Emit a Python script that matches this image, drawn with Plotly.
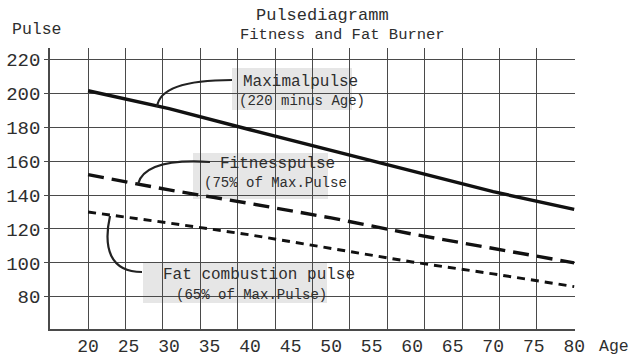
import plotly.graph_objects as go

# ---- data ----
ages = [20, 30, 40, 50, 60, 70, 80]
max_pulse = [201.5, 191, 178.5, 166.5, 154, 142, 131.5]
fitness_pulse = [152, 143, 135, 126.5, 117, 108.5, 100]
fat_pulse = [130, 123.5, 116.5, 108.5, 100.5, 93.5, 86]
x_ticks = [20, 25, 30, 35, 40, 45, 50, 55, 60, 65, 70, 75, 80]
y_ticks = [80, 100, 120, 140, 160, 180, 200, 220]
n_grid_cols = 13  # the drawn grid has 13 equal columns between age 20 and 80

FONT = "Liberation Mono, Courier New, monospace"
INK = "#2e2e2e"
GRID = "#4a4a4a"

# layout geometry (pixels)
L, R, T, B = 50, 575, 48, 329
W, H = 631, 359
XR = [15.3, 80.1]
YR = [61.0, 226.7]


def dx(px):
    return XR[0] + (px - L) / (R - L) * (XR[1] - XR[0])


def dy(py):
    return YR[0] + (B - py) / (B - T) * (YR[1] - YR[0])


fig = go.Figure()
fig.add_trace(go.Scatter(x=ages, y=max_pulse, mode="lines",
                         line=dict(color="#111", width=3.4), showlegend=False))
fig.add_trace(go.Scatter(x=ages, y=fitness_pulse, mode="lines",
                         line=dict(color="#111", width=3.4, dash="16px,8px"), showlegend=False))
fig.add_trace(go.Scatter(x=ages, y=fat_pulse, mode="lines",
                         line=dict(color="#111", width=2.9, dash="8px,6px"), showlegend=False))
# carrier for the grid axis (no visible marks)
fig.add_trace(go.Scatter(x=[0], y=[None], xaxis="x2", mode="lines",
                         showlegend=False, hoverinfo="skip"))

shapes = []
# label boxes
for (x0, y0, x1, y1) in [(232, 68, 352, 110), (193, 153, 328, 199), (143, 263, 327, 303)]:
    shapes.append(dict(type="rect", xref="x", yref="y", x0=dx(x0), x1=dx(x1),
                       y0=dy(y1), y1=dy(y0), fillcolor="#e6e6e6", line=dict(width=0),
                       layer="below"))


def path(points, cubic=False):
    p = [f"{dx(a):.3f},{dy(b):.3f}" for a, b in points]
    if cubic:
        return f"M {p[0]} C {p[1]} {p[2]} {p[3]}"
    return f"M {p[0]} Q {p[1]} {p[2]}"


leader = dict(color="#222", width=2.2)
shapes.append(dict(type="path", xref="x", yref="y",
                   path=path([(232, 80), (160, 80), (157, 107)]), line=leader))
shapes.append(dict(type="path", xref="x", yref="y",
                   path=path([(210, 162), (145, 158), (138, 184)]), line=leader))
shapes.append(dict(type="path", xref="x", yref="y",
                   path=path([(110, 216), (103, 248), (110, 272), (142, 272)], cubic=True),
                   line=leader))
fig.update_layout(shapes=shapes)


def ann(text, px, py, size, xanchor="center"):
    fig.add_annotation(text=text, xref="paper", yref="paper",
                       x=(px - L) / (R - L), y=(B - py) / (B - T),
                       xanchor=xanchor, yanchor="middle", showarrow=False,
                       font=dict(family=FONT, size=size, color=INK))


ann("Pulsediagramm", 322, 16, 17)
ann("Fitness and Fat Burner", 342, 35, 15.5)
ann("Pulse", 37, 29, 16.5)
ann("Age", 614, 346, 16.5)
ann("Maximalpulse", 300, 82, 16)
ann("(220 minus Age)", 302, 101, 14)
ann("Fitnesspulse", 277, 164, 16)
ann("(75% of Max.Pulse", 275, 183, 14)
ann("Fat combustion pulse", 259, 275, 16)
ann("(65% of Max.Pulse)", 251, 295, 14)

# grid axis: column index k=0..13 maps age 20..80
col_w = (80 - 20) / n_grid_cols
g_range = [(XR[0] - 20) / col_w, (XR[1] - 20) / col_w]

fig.update_layout(
    width=W, height=H,
    margin=dict(l=L, r=W - R, t=T, b=H - B, autoexpand=False),
    plot_bgcolor="white", paper_bgcolor="white",
    font=dict(family=FONT, color=INK),
    xaxis2=dict(overlaying="x", range=g_range, tick0=0, dtick=1,
                showgrid=True, gridcolor=GRID, gridwidth=1.4,
                showticklabels=False, ticks="", showline=False, zeroline=False,
                automargin=False, fixedrange=True, side="bottom"),
)
fig.layout.xaxis.update(range=XR, tickvals=x_ticks, ticktext=[str(v) for v in x_ticks],
                        showgrid=False,
                        showline=True, linecolor=GRID, linewidth=1.6,
                        ticks="", ticklabelstandoff=0,
                        tickfont=dict(family=FONT, size=18, color=INK),
                        zeroline=False, fixedrange=True, automargin=False)
fig.update_yaxes(range=YR, tickvals=y_ticks, ticktext=[str(v) for v in y_ticks],
                 showgrid=True, gridcolor=GRID, gridwidth=1.4,
                 showline=True, linecolor=GRID, linewidth=1.6,
                 ticks="outside", ticklen=4, tickcolor=GRID, tickwidth=1.4,
                 tickfont=dict(family=FONT, size=19, color=INK),
                 zeroline=False, fixedrange=True, automargin=False)

fig.write_html("out.html")
